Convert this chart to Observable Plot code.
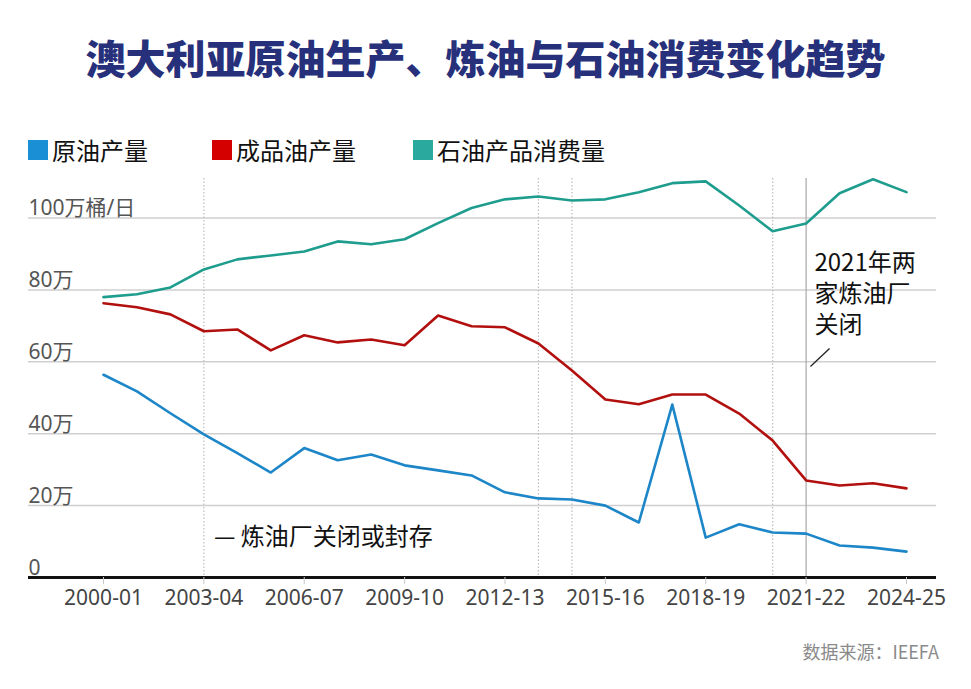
<!DOCTYPE html>
<html><head><meta charset="utf-8">
<script src="https://cdn.jsdelivr.net/npm/d3@7"></script>
<script src="https://cdn.jsdelivr.net/npm/@observablehq/plot@0.6"></script>
<style>
html,body{margin:0;padding:0;background:#fff;}
#wrap{position:relative;width:971px;height:689px;overflow:hidden;font-family:"Noto Sans","Noto Sans CJK SC",sans-serif;}
#title{position:absolute;left:0;top:30px;width:971px;text-align:center;font-family:"Noto Sans CJK SC",sans-serif;font-weight:900;font-size:40px;line-height:54px;color:#27307a;letter-spacing:0px;}
.leg{position:absolute;top:134px;font-family:"Noto Sans CJK SC",sans-serif;font-size:24px;line-height:32px;color:#111;display:flex;align-items:center;}
.leg span.sw{display:inline-block;width:20px;height:20px;margin-right:4px;}
#src{position:absolute;right:32px;top:638px;font-family:"Noto Sans CJK SC",sans-serif;font-size:18px;color:#8a8a8a;}
#chart{position:absolute;left:0;top:170px;}
</style></head>
<body><div id="wrap">
<div id="title">澳大利亚原油生产、炼油与石油消费变化趋势</div>
<div id="legend"></div>
<div id="chart"></div>
<div id="src">数据来源：IEEFA</div>
</div>
<script>
const years = ["2000-01","2001-02","2002-03","2003-04","2004-05","2005-06","2006-07","2007-08","2008-09","2009-10","2010-11","2011-12","2012-13","2013-14","2014-15","2015-16","2016-17","2017-18","2018-19","2019-20","2020-21","2021-22","2022-23","2023-24","2024-25"];
// 万桶/日
const crude = [56.4,51.8,45.7,39.8,34.6,29.2,36.0,32.6,34.2,31.2,29.8,28.4,23.7,22.0,21.7,20.0,15.3,48.1,11.1,14.8,12.5,12.2,8.9,8.3,7.2];
const refined = [76.3,75.2,73.2,68.5,69.0,63.2,67.4,65.4,66.2,64.6,72.9,69.9,69.6,65.1,57.6,49.5,48.2,50.9,50.9,45.6,38.1,27.0,25.6,26.2,24.8];
const consumption = [78.0,78.8,80.7,85.7,88.5,89.6,90.7,93.5,92.7,94.1,98.6,102.8,105.2,106.0,104.9,105.2,107.2,109.7,110.2,103.5,96.3,98.5,106.9,110.8,107.2];
const seriesNames = ["原油产量","成品油产量","石油产品消费量"];
const lineColors = ["#1c86c8","#b2100f","#1e9d8e"];
const swatchColors = ["#1a8fd6","#d40000","#2aaa9e"];
const yTicks = [0,20,40,60,80,100];
const yTickLabels = ["0","20万","40万","60万","80万","100万桶/日"];
const xTickYears = ["2000-01","2003-04","2006-07","2009-10","2012-13","2015-16","2018-19","2021-22","2024-25"];
const closureYears = ["2003-04","2013-14","2014-15","2020-21"];
const closure2021 = ["2021-22"];
const closureNote = "— 炼油厂关闭或封存";
const note2021 = ["2021年两","家炼油厂","关闭"];

// legend
const legendX = [28,212,413];
const lg = document.getElementById("legend");
seriesNames.forEach((n,i)=>{
  const d = document.createElement("div");
  d.className = "leg"; d.style.left = legendX[i]+"px";
  d.innerHTML = `<span class="sw" style="background:${swatchColors[i]}"></span>${n}`;
  lg.appendChild(d);
});

const rows = [];
[crude,refined,consumption].forEach((arr,s)=>arr.forEach((v,i)=>rows.push({i, v, s: seriesNames[s]})));
const idx = y => years.indexOf(y);

const plot = Plot.plot({
  width: 971, height: 450,
  marginLeft: 28, marginRight: 35, marginTop: 8, marginBottom: 43,
  style: {fontFamily: '"Noto Sans","Noto Sans CJK SC",sans-serif', background: "transparent"},
  x: {type: "linear", domain: [-2.2416, 24.897], axis: null, label: null},
  y: {domain: [0, 111], axis: null, label: null},
  color: {domain: seriesNames, range: lineColors},
  marks: [
    Plot.ruleY(yTicks.filter(d=>d>0), {stroke: "#cfcfcf", strokeWidth: 1.5}),
    Plot.ruleX(closureYears.map(idx), {stroke: "#bdbdbd", strokeWidth: 1.2, strokeDasharray: "1.5,2"}),
    Plot.ruleX(closure2021.map(idx), {stroke: "#a8a8a8", strokeWidth: 1.2}),
    Plot.text(yTicks, {x: -2.2416, y: d=>d, text: (d,i)=>yTickLabels[i], textAnchor: "start", lineAnchor: "bottom", dy: -3, fontSize: 21, fill: "#555"}),
    Plot.line(rows, {x: "i", y: "v", z: "s", stroke: "s", strokeWidth: 2.6, strokeLinejoin: "round"}),
    Plot.ruleY([0], {stroke: "#111", strokeWidth: 3}),
    Plot.axisX(xTickYears.map(idx), {tickFormat: i=>years[i], tickSize: 7, tickPadding: 6, stroke: "#c8c8c8", fill: "#444", fontSize: 21, label: null}),
    Plot.text([closureNote], {x: 3.3, y: 11.1, text: d=>d, textAnchor: "start", fontSize: 24, fill: "#111", fontFamily: '"Noto Sans CJK SC",sans-serif'}),
    Plot.text(note2021, {x: 21.25, y: (d,i)=>87.5 - i*8.7, text: d=>d, textAnchor: "start", fontSize: 24, fill: "#111", fontFamily: '"Noto Sans CJK SC",sans-serif'}),
    Plot.link([0], {x1: 21.13, y1: 58.7, x2: 21.7, y2: 63.7, stroke: "#222", strokeWidth: 1.3})
  ]
});
document.getElementById("chart").appendChild(plot);
</script>
</body></html>
